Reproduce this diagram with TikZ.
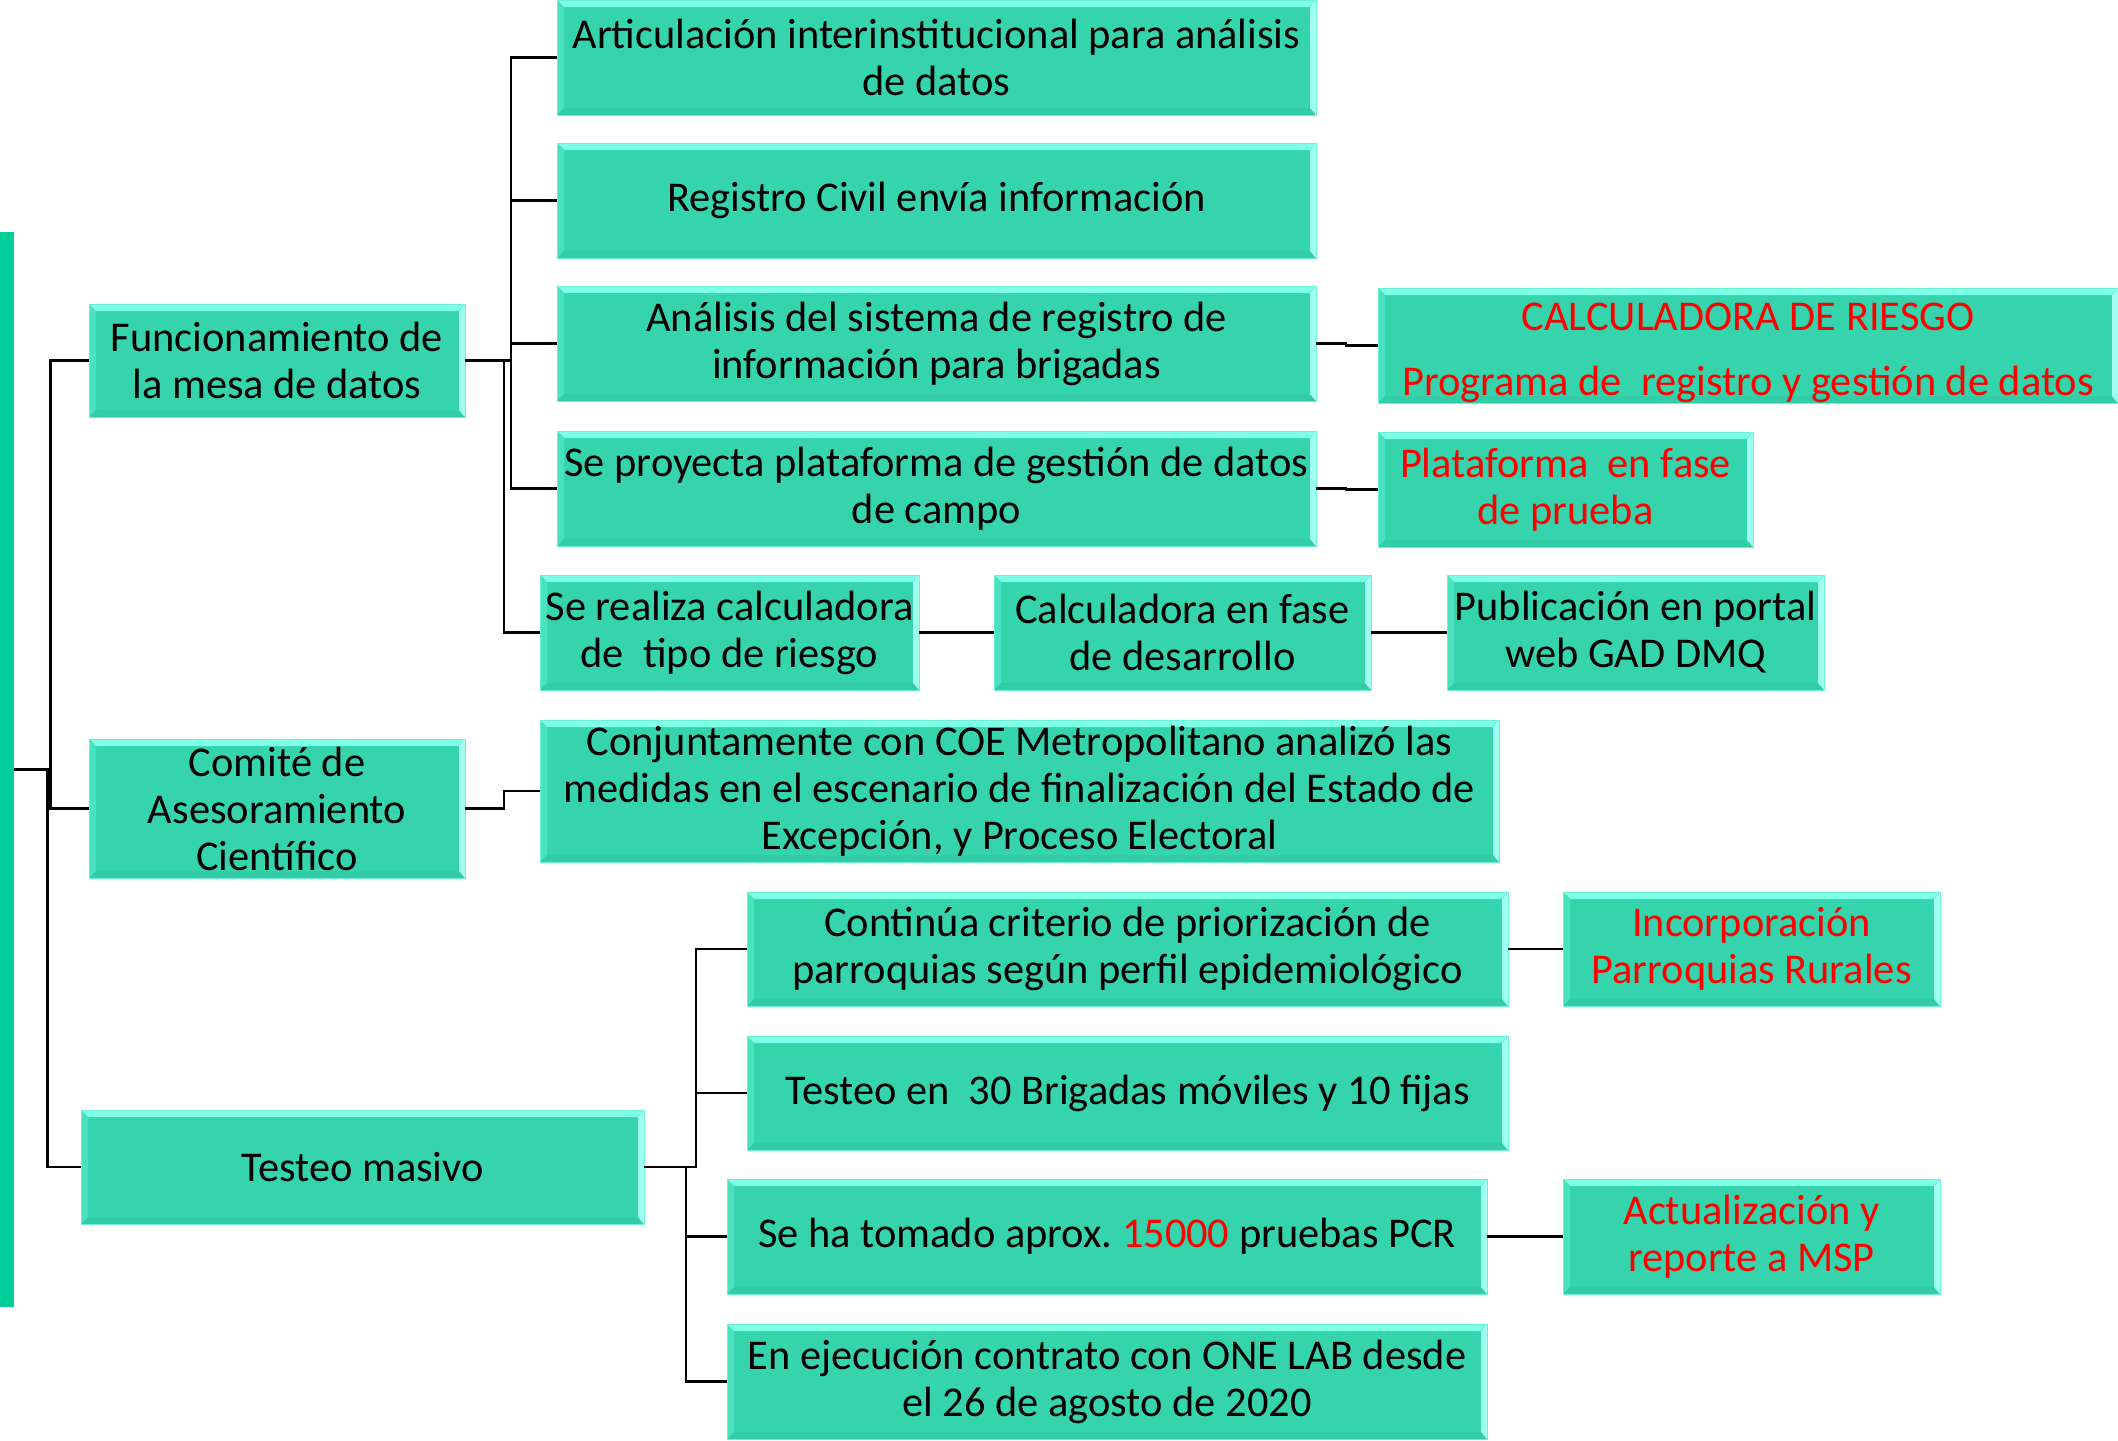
\documentclass[tikz,border=0pt]{standalone}
\usepackage{fontspec}
\setmainfont{Carlito}
\frenchspacing
\definecolor{boxfill}{RGB}{54,212,173}
\definecolor{bevtop}{RGB}{125,255,232}
\definecolor{bevleft}{RGB}{72,226,191}
\definecolor{bevbot}{RGB}{50,204,166}
\definecolor{bevright}{RGB}{160,255,240}
\definecolor{boxedge}{RGB}{110,240,214}
\definecolor{rootfill}{RGB}{0,204,153}
\tikzset{
  box/.style 2 args={
    draw=boxedge, line width=0.5pt, fill=boxfill,
    minimum width=#1*0.5pt, minimum height=#2*0.5pt,
    inner sep=0pt, outer sep=0pt, align=center,
    font=\fontsize{21.2}{23.5}\selectfont,
    path picture={
      \fill[bevtop] (path picture bounding box.north west) -- (path picture bounding box.north east)
        -- ([shift={(-3.5pt,-3.5pt)}]path picture bounding box.north east)
        -- ([shift={(3.5pt,-3.5pt)}]path picture bounding box.north west) -- cycle;
      \fill[bevleft] (path picture bounding box.north west) -- ([shift={(3.5pt,-3.5pt)}]path picture bounding box.north west)
        -- ([shift={(3.5pt,3.5pt)}]path picture bounding box.south west)
        -- (path picture bounding box.south west) -- cycle;
      \fill[bevbot] (path picture bounding box.south west) -- (path picture bounding box.south east)
        -- ([shift={(-3.5pt,3.5pt)}]path picture bounding box.south east)
        -- ([shift={(3.5pt,3.5pt)}]path picture bounding box.south west) -- cycle;
      \fill[bevright] (path picture bounding box.north east) -- (path picture bounding box.south east)
        -- ([shift={(-3pt,3.5pt)}]path picture bounding box.south east)
        -- ([shift={(-3pt,-3.5pt)}]path picture bounding box.north east) -- cycle;
    }
  },
  conn/.style={draw=black, line width=1.3pt}
}
\begin{document}
\begin{tikzpicture}[x=0.5pt,y=-0.5pt]
\useasboundingbox (0,0) rectangle (2118,1440);
\fill[white] (0,0) rectangle (2118,1440);

\node[fill=rootfill, minimum width=14*0.5pt, minimum height=1075*0.5pt, inner sep=0pt, outer sep=0pt] (root) at (7,769.5) {};

\node[box={376}{113}] (fun) at (277,360.5) {Funcionamiento de\\la mesa de datos};
\node[box={376}{139}] (com) at (277,808.5) {Comité de\\Asesoramiento\\Científico};
\node[box={563}{114}] (tes) at (362.5,1167) {Testeo masivo};

\node[box={759}{115}] (art) at (936.5,57.5) {Articulación interinstitucional para análisis\\de datos};
\node[box={759}{115}] (reg) at (936.5,200.5) {Registro Civil envía información};
\node[box={759}{115}] (ana) at (936.5,343.5) {Análisis del sistema de registro de\\información para brigadas};
\node[box={759}{115}] (pro) at (936.5,488.5) {Se proyecta plataforma de gestión de datos\\de campo};
\node[box={379}{115}] (rea) at (729.5,632.5) {Se realiza calculadora\\de\ \ tipo de riesgo};
\node[box={377}{115}] (cfa) at (1182.5,632.5) {Calculadora en fase\\de desarrollo};
\node[box={377}{115}] (pub) at (1635.5,632.5) {Publicación en portal\\web GAD DMQ};

\node[box={740}{115}, text=red] (cal) at (1748,345.5) {\rule{0pt}{21pt}CALCULADORA DE RIESGO\\[9pt]Programa de\ \ registro y gestión de datos};
\node[box={375}{115}, text=red] (pla) at (1565.5,489.5) {Plataforma\ \ en fase\\de prueba};

\node[box={959}{142}] (con) at (1019.5,791) {Conjuntamente con COE Metropolitano analizó las\\medidas en el escenario de finalización del Estado de\\Excepción, y Proceso Electoral};

\node[box={761}{114}] (cnt) at (1127.5,949) {Continúa criterio de priorización de\\parroquias según perfil epidemiológico};
\node[box={377}{114}, text=red] (inc) at (1751.5,949) {Incorporación\\Parroquias Rurales};
\node[box={761}{114}] (t30) at (1127.5,1093) {Testeo en\ \ 30 Brigadas móviles y 10 fijas};
\node[box={760}{115}] (tom) at (1107,1236.5) {Se ha tomado aprox. \textcolor{red}{15000} pruebas PCR};
\node[box={377}{115}, text=red] (act) at (1751.5,1236.5) {Actualización y\\reporte a MSP};
\node[box={760}{115}] (eje) at (1107,1381.5) {En ejecución contrato con ONE LAB desde\\el 26 de agosto de 2020};

% root connectors
\draw[conn] (root.east) -- ++(36.5,0) |- (fun.west);
\draw[conn] (root.east) -- ++(36.5,0) |- (com.west);
\draw[conn] (root.east) -- ++(33.5,0) |- (tes.west);

% funcionamiento
\draw[conn] (fun.east) -- ++(46,0) |- (art.west);
\draw[conn] (fun.east) -- ++(46,0) |- (reg.west);
\draw[conn] (fun.east) -- ++(46,0) |- (ana.west);
\draw[conn] (fun.east) -- ++(46,0) |- (pro.west);
\draw[conn] (fun.east) -- ++(39,0) |- (rea.west);
\draw[conn] (rea.east) -- (cfa.west);
\draw[conn] (cfa.east) -- (pub.west);
\draw[conn] (ana.east) -- ++(30,0) |- (cal.west);
\draw[conn] (pro.east) -- ++(30,0) |- (pla.west);

% comite
\draw[conn] (com.east) -- ++(39,0) |- (con.west);

% testeo
\draw[conn] (tes.east) -- ++(52,0) |- (cnt.west);
\draw[conn] (tes.east) -- ++(52,0) |- (t30.west);
\draw[conn] (tes.east) -- ++(42,0) |- (tom.west);
\draw[conn] (tes.east) -- ++(42,0) |- (eje.west);
\draw[conn] (cnt.east) -- ++(28,0) |- (inc.west);
\draw[conn] (tom.east) -- (act.west);
\end{tikzpicture}
\end{document}
